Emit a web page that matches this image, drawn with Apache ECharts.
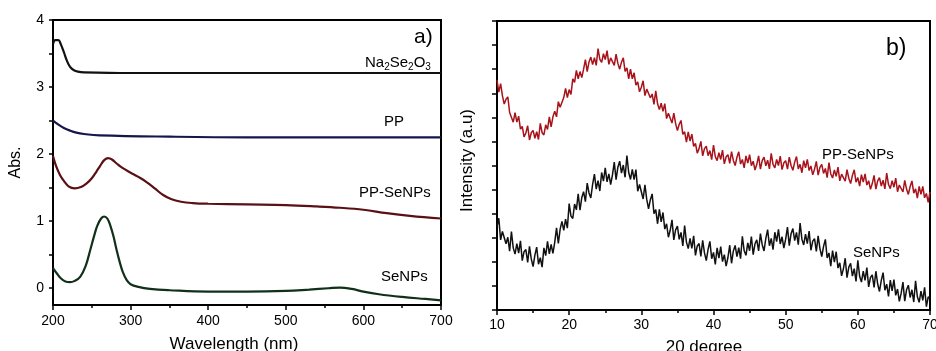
<!DOCTYPE html>
<html>
<head>
<meta charset="utf-8">
<script src="https://cdn.jsdelivr.net/npm/echarts@6.0.0/dist/echarts.min.js"></script>
<style>
  html, body { margin: 0; padding: 0; background: #fff; }
  #chart { width: 936px; height: 351px; }
</style>
</head>
<body>
<div id="chart"></div>
<script>
// a) UV-Vis spectra, [wavelength nm, absorbance]
const naSeO3 = [[200,3.64],[203,3.7],[207,3.7],[210,3.64],[214,3.52],[218,3.39],[222,3.3],[227,3.25],[232,3.23],[240,3.22],[300,3.21],[700,3.21]];
const ppAbs = [[200,2.5],[207,2.44],[214,2.39],[222,2.35],[230,2.32],[240,2.3],[260,2.28],[350,2.26],[450,2.25],[700,2.25]];
const ppSeAbs = [[200,1.97],[204,1.82],[209,1.69],[214,1.6],[220,1.52],[228,1.49],[236,1.51],[243,1.56],[250,1.64],[256,1.74],[261,1.83],[266,1.91],[271,1.94],[276,1.92],[282,1.86],[290,1.79],[299,1.73],[310,1.66],[321,1.58],[332,1.48],[342,1.39],[352,1.33],[365,1.29],[380,1.27],[400,1.26],[450,1.25],[500,1.24],[540,1.22],[570,1.2],[600,1.17],[630,1.12],[660,1.08],[700,1.04]];
const seAbs = [[200,0.3],[205,0.22],[210,0.15],[216,0.1],[222,0.09],[228,0.11],[235,0.17],[242,0.33],[248,0.57],[253,0.78],[257,0.93],[262,1.04],[266,1.07],[270,1.04],[274,0.93],[278,0.77],[282,0.57],[286,0.39],[290,0.24],[295,0.12],[300,0.06],[310,0.02],[325,-0.01],[350,-0.03],[400,-0.05],[450,-0.05],[500,-0.04],[530,-0.02],[555,0.0],[570,0.01],[585,-0.01],[600,-0.05],[620,-0.09],[650,-0.13],[680,-0.16],[700,-0.18]];
const absTicks = [0, 1, 2, 3, 4];
const absMinorTicks = [0, 0.5, 1, 1.5, 2, 2.5, 3, 3.5, 4];

// b) XRD patterns, one reading every 0.25 degree from 10 to 70
const xrdStart = 10;
const xrdStep = 0.25;
const xrdPPSe = [
  9.55,9.05,9.4,8.9,8.55,8.75,8.85,8.2,8.25,7.8,8.2,7.8,8.05,7.51,7.62,7.19,
  7.35,7.65,7.06,7.36,7.46,7.13,7.4,7.08,7.75,7.36,7.27,7.69,7.5,8.02,7.6,8.02,
  8.25,8.02,8.65,8.42,8.35,8.82,9.2,8.82,9.15,8.95,9.6,9.45,9.95,9.6,9.9,9.65,
  10.0,10.4,9.9,10.3,10.5,10.19,10.48,10.16,10.85,10.41,10.28,10.64,10.4,10.77,10.2,10.47,
  10.55,10.16,10.62,10.24,10.0,10.29,10.47,9.91,10.05,9.6,10.0,9.6,9.85,9.34,9.47,9.06,
  9.25,9.52,8.9,9.17,9.25,8.81,8.97,8.54,9.1,8.56,8.32,8.59,8.25,8.57,7.95,8.17,
  8.2,7.76,8.17,7.74,7.45,7.71,7.87,7.29,7.4,6.97,7.4,7.02,7.3,6.79,6.92,6.51,
  6.7,7.0,6.4,6.7,6.8,6.41,6.62,6.24,6.85,6.37,6.2,6.53,6.25,6.64,6.07,6.36,
  6.45,6.09,6.58,6.21,6.0,6.34,6.57,6.06,6.25,5.9,6.4,6.1,6.45,5.99,6.18,5.81,
  6.05,6.4,5.85,6.2,6.35,5.99,6.22,5.86,6.5,6.05,5.9,6.25,6.0,6.39,5.83,6.11,
  6.2,5.85,6.35,6.0,5.8,6.14,6.37,5.86,6.05,5.7,6.2,5.9,6.25,5.79,5.98,5.61,
  5.85,6.17,5.6,5.92,6.05,5.67,5.88,5.5,6.12,5.65,5.48,5.82,5.55,5.93,5.36,5.64,
  5.72,5.35,5.83,5.47,5.25,5.59,5.82,5.31,5.5,5.14,5.62,5.31,5.65,5.19,5.37,5.01,
  5.25,5.59,5.02,5.36,5.5,5.15,5.39,5.03,5.68,5.21,5.04,5.37,5.1,5.48,4.91,5.19,
  5.27,4.9,5.38,5.02,4.8,5.13,5.36,4.85,5.03,4.65,5.13,4.8,5.13,4.66,4.84,4.47,
  4.9];
const xrdSe = [
  3.46,3.81,2.91,3.26,3.33,2.75,3.02,2.44,3.26,2.58,2.32,2.76,2.36,2.87,2.05,2.42,
  2.51,1.98,2.64,2.12,1.8,2.28,2.61,1.9,2.17,1.78,2.58,2.26,2.85,2.33,2.72,2.35,
  2.81,3.41,2.76,3.36,3.68,3.31,3.77,3.4,4.42,3.9,3.8,4.4,4.16,4.82,4.15,4.67,
  4.91,4.5,5.27,4.86,4.65,5.22,5.64,5.02,5.37,4.94,5.71,5.35,5.9,5.32,5.65,5.21,
  5.61,6.14,5.41,5.93,6.18,5.68,6.02,5.51,6.41,5.71,5.42,5.84,5.41,5.83,4.93,5.21,
  5.21,4.61,5.2,4.59,4.2,4.58,4.82,4.0,4.17,3.58,4.18,3.66,4.05,3.36,3.58,3.02,
  3.31,3.74,2.91,3.33,3.48,2.93,3.22,2.66,3.51,2.82,2.55,2.97,2.56,3.08,2.27,2.66,
  2.76,2.23,2.89,2.37,2.05,2.52,2.85,2.13,2.39,1.89,2.58,2.15,2.63,2.01,2.3,1.82,
  2.18,2.69,1.94,2.45,2.68,2.22,2.59,2.13,3.06,2.46,2.27,2.79,2.46,3.05,2.3,2.75,
  2.91,2.45,3.17,2.71,2.45,2.97,3.34,2.67,2.97,2.51,3.23,2.84,3.35,2.74,3.04,2.57,
  2.94,3.44,2.67,3.17,3.38,2.88,3.22,2.71,3.61,2.94,2.7,3.15,2.76,3.28,2.48,2.86,
  2.96,2.43,3.08,2.55,2.22,2.64,2.93,2.16,2.37,1.82,2.47,1.99,2.42,1.74,1.96,1.42,
  1.71,2.15,1.34,1.78,1.94,1.41,1.72,1.19,2.06,1.4,1.16,1.61,1.23,1.76,0.96,1.35,
  1.46,0.94,1.61,1.08,0.77,1.23,1.55,0.82,1.07,0.56,1.24,0.79,1.26,0.61,0.87,0.36,
  0.69,1.16,0.37,0.84,1.03,0.52,0.84,0.33,1.21,0.55,0.32,0.78,0.4,0.94,0.14,0.54,
  0.5];

const toPairs = vals => vals.map((v, i) => [xrdStart + i * xrdStep, v]);

const FONT = 'Liberation Sans';
const axisText = { color: '#000', fontFamily: FONT, fontSize: 14 };
const frame = { show: true, onZero: false, lineStyle: { color: '#000', width: 2 } };
const tickStyle = { color: '#000', width: 1.5 };

const label = (text, left, top, size) => ({
  type: 'text', left, top,
  style: { text, fontFamily: FONT, fontSize: size || 15, fill: '#000' }
});

const chart = echarts.init(document.getElementById('chart'), null, { renderer: 'canvas' });

const option = {
  animation: false,
  backgroundColor: '#fff',
  grid: [
    { left: 53, top: 20, width: 388, height: 285, containLabel: false, outerBoundsMode: 'none', show: true, borderColor: '#000', borderWidth: 2, backgroundColor: 'transparent' },
    { left: 497, top: 21, width: 433, height: 289, containLabel: false, outerBoundsMode: 'none', show: true, borderColor: '#000', borderWidth: 2, backgroundColor: 'transparent' }
  ],
  xAxis: [
    {
      gridIndex: 0, type: 'value', min: 200, max: 700, interval: 100,
      name: 'Wavelength (nm)', nameLocation: 'middle', nameGap: 31,
      nameTextStyle: { color: '#000', fontFamily: FONT, fontSize: 17, padding: [0, 26, 0, 0] },
      axisLine: frame,
      axisTick: { show: true, length: 5, lineStyle: tickStyle },
      minorTick: { show: true, splitNumber: 2, length: 3, lineStyle: tickStyle },
      axisLabel: Object.assign({ margin: 9 }, axisText),
      splitLine: { show: false }
    },
    {
      gridIndex: 1, type: 'value', min: 10, max: 70, interval: 10,
      name: '20 degree', nameLocation: 'middle', nameGap: 29,
      nameTextStyle: { color: '#000', fontFamily: FONT, fontSize: 17, padding: [0, 19, 0, 0] },
      axisLine: frame,
      axisTick: { show: true, length: 5, lineStyle: tickStyle },
      minorTick: { show: true, splitNumber: 2, length: 3, lineStyle: tickStyle },
      axisLabel: Object.assign({ margin: 8 }, axisText),
      splitLine: { show: false }
    }
  ],
  yAxis: [
    {
      gridIndex: 0, type: 'value', min: -0.25, max: 4,
      name: 'Abs.', nameLocation: 'middle', nameGap: 29,
      nameTextStyle: { color: '#000', fontFamily: FONT, fontSize: 16 },
      axisLine: frame,
      axisTick: { show: true, length: 4, customValues: absMinorTicks, lineStyle: tickStyle },
      axisLabel: Object.assign({ margin: 9, customValues: absTicks }, axisText),
      splitLine: { show: false }
    },
    {
      gridIndex: 1, type: 'value', min: 0, max: 12, interval: 1,
      name: 'Intensity (a.u)', nameLocation: 'middle', nameGap: 21,
      nameTextStyle: { color: '#000', fontFamily: FONT, fontSize: 17, padding: [0, 0, 0, 10] },
      axisLine: frame,
      axisTick: { show: true, length: 5, lineStyle: tickStyle },
      axisLabel: { show: false },
      splitLine: { show: false }
    }
  ],
  series: [
    { name: 'Na2Se2O3', type: 'line', xAxisIndex: 0, yAxisIndex: 0, data: naSeO3, smooth: 0.4, showSymbol: false, lineStyle: { color: '#111', width: 2.2 } },
    { name: 'PP', type: 'line', xAxisIndex: 0, yAxisIndex: 0, data: ppAbs, smooth: 0.4, showSymbol: false, lineStyle: { color: '#15164a', width: 2.2 } },
    { name: 'PP-SeNPs', type: 'line', xAxisIndex: 0, yAxisIndex: 0, data: ppSeAbs, smooth: 0.4, showSymbol: false, lineStyle: { color: '#5a1014', width: 2.2 } },
    { name: 'SeNPs', type: 'line', xAxisIndex: 0, yAxisIndex: 0, data: seAbs, smooth: 0.4, showSymbol: false, lineStyle: { color: '#10301a', width: 2.2 } },
    { name: 'PP-SeNPs XRD', type: 'line', xAxisIndex: 1, yAxisIndex: 1, data: toPairs(xrdPPSe), showSymbol: false, lineStyle: { color: '#a8121a', width: 1.5 } },
    { name: 'SeNPs XRD', type: 'line', xAxisIndex: 1, yAxisIndex: 1, data: toPairs(xrdSe), showSymbol: false, lineStyle: { color: '#111', width: 1.5 } }
  ],
  graphic: [
    label('a)', 414, 27, 21),
    {
      type: 'text', left: 365, top: 55,
      style: {
        text: 'Na{s|2}Se{s|2}O{s|3}', fontFamily: FONT, fontSize: 15, fill: '#000',
        rich: { s: { fontFamily: FONT, fontSize: 10, fill: '#000', padding: [9, 0, 0, 0] } }
      }
    },
    label('PP', 384, 114),
    label('PP-SeNPs', 359, 185),
    label('SeNPs', 381, 269),
    label('b)', 886, 37, 23),
    label('PP-SeNPs', 822, 147),
    label('SeNPs', 853, 245)
  ]
};

chart.setOption(option);
</script>
</body>
</html>
